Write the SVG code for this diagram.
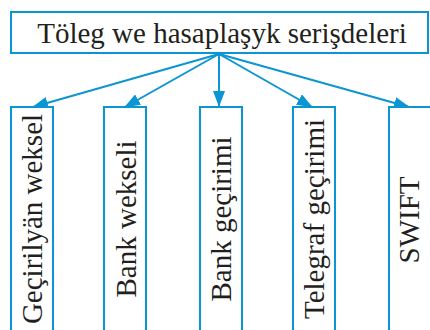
<svg xmlns="http://www.w3.org/2000/svg" width="430" height="330" viewBox="0 0 430 330">
<style>
.box{fill:#fff;stroke:#0b95d2;stroke-width:2}
.conn{stroke:#0b95d2;stroke-width:2;fill:none}
.t{font-family:"Liberation Serif","Times New Roman",serif;font-size:29px;fill:#231f20;text-anchor:middle}
</style>
<defs>
<marker id="ah" viewBox="0 0 16 12" refX="15" refY="6" markerWidth="16" markerHeight="12" markerUnits="userSpaceOnUse" orient="auto">
<path d="M0,0 L16,6 L0,12 z" fill="#0b95d2"/>
</marker>
</defs>
<rect width="430" height="330" fill="#fff"/>
<g id="root">
<rect class="box" x="11" y="12" width="417" height="41"/>
<text class="t" x="222" y="43">Töleg we hasaplaşyk serişdeleri</text>
</g>
<g id="connectors">
<line class="conn" x1="219" y1="54" x2="33" y2="107" marker-end="url(#ah)"/>
<line class="conn" x1="219" y1="54" x2="125" y2="107" marker-end="url(#ah)"/>
<line class="conn" x1="219" y1="54" x2="219" y2="106" marker-end="url(#ah)"/>
<line class="conn" x1="219" y1="54" x2="312" y2="107" marker-end="url(#ah)"/>
<line class="conn" x1="219" y1="54" x2="409" y2="107" marker-end="url(#ah)"/>
</g>
<g id="n1">
<rect class="box" x="11" y="107" width="42" height="240"/>
<text class="t" transform="translate(42,219) rotate(-90)">Geçirilyän weksel</text>
</g>
<g id="n2">
<rect class="box" x="104" y="107" width="42" height="240"/>
<text class="t" transform="translate(136,219) rotate(-90)">Bank wekseli</text>
</g>
<g id="n3">
<rect class="box" x="200" y="107" width="42" height="240"/>
<text class="t" transform="translate(231,219) rotate(-90)">Bank geçirimi</text>
</g>
<g id="n4">
<rect class="box" x="293" y="107" width="42" height="240"/>
<text class="t" transform="translate(324,219) rotate(-90)">Telegraf geçirimi</text>
</g>
<g id="n5">
<rect class="box" x="389" y="107" width="42" height="240"/>
<text class="t" transform="translate(419,220) rotate(-90)">SWIFT</text>
</g>
</svg>
